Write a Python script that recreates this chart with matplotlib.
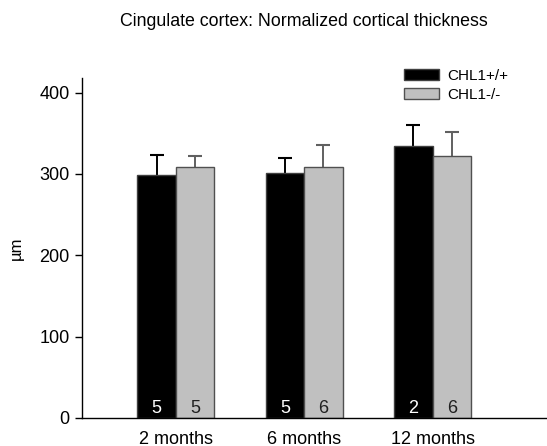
import matplotlib
matplotlib.use("Agg")
import matplotlib.pyplot as plt
import numpy as np

plt.rcParams['font.family'] = ['Liberation Sans', 'DejaVu Sans']

groups = ["2 months", "6 months", "12 months"]
series = ["CHL1+/+", "CHL1-/-"]
wt_mean = np.array([299, 301, 334])
wt_err = np.array([24, 19, 26])
ko_mean = np.array([309, 308, 322])
ko_err = np.array([13, 28, 29])
wt_n = [5, 5, 2]
ko_n = [5, 6, 6]

fig = plt.figure(figsize=(5.47, 4.46), dpi=100)
ax = fig.add_axes([82 / 547, 28 / 446, 465 / 547, 340 / 446])

x = np.arange(len(groups))
w = 0.30


def upper_error(xpos, mean, err, color):
    # one-sided (upper) error bar with a cap on top only
    ax.vlines(xpos, mean, mean + err, color=color, linewidth=1.4, zorder=1)
    ax.plot(xpos, mean + err, linestyle="none", marker="_", markersize=10,
            markeredgewidth=1.5, color=color, zorder=1)


upper_error(x - w / 2, wt_mean, wt_err, "black")
upper_error(x + w / 2, ko_mean, ko_err, "#606060")

ax.bar(x - w / 2, wt_mean, w, color="black", edgecolor="#404040", linewidth=1.0,
       label=series[0], zorder=2)
ax.bar(x + w / 2, ko_mean, w, color="#c0c0c0", edgecolor="#505050", linewidth=1.0,
       label=series[1], zorder=2)

for i in range(len(groups)):
    ax.text(x[i] - w / 2, 6, str(wt_n[i]), color="white", ha="center", va="baseline",
            fontsize=13, zorder=3)
    ax.text(x[i] + w / 2, 6, str(ko_n[i]), color="#202020", ha="center", va="baseline",
            fontsize=13, zorder=3)

ax.set_xlim(-0.73, 2.89)
ax.set_ylim(0, 418)
ax.set_yticks([0, 100, 200, 300, 400])
ax.set_xticks(x)
ax.set_xticklabels(groups, fontsize=13)
ax.tick_params(axis="x", length=0, pad=9)
ax.tick_params(axis="y", labelsize=13, length=5, width=1, pad=4)
for s in ["top", "right"]:
    ax.spines[s].set_visible(False)
ax.spines["left"].set_linewidth(1)
ax.spines["bottom"].set_linewidth(1)
ax.set_ylabel("µm", fontsize=12, labelpad=11)

fig.legend(loc="upper left", bbox_to_anchor=(404 / 547, 1 - 69 / 446), frameon=False,
           fontsize=11, handlelength=2.3, handleheight=0.72, handletextpad=0.5,
           labelspacing=0.3, borderpad=0, borderaxespad=0)

fig.text(304 / 547, 1 - 21 / 446, "Cingulate cortex: Normalized cortical thickness",
         ha="center", va="center", fontsize=12.8)

fig.savefig("out.png", dpi=100)
